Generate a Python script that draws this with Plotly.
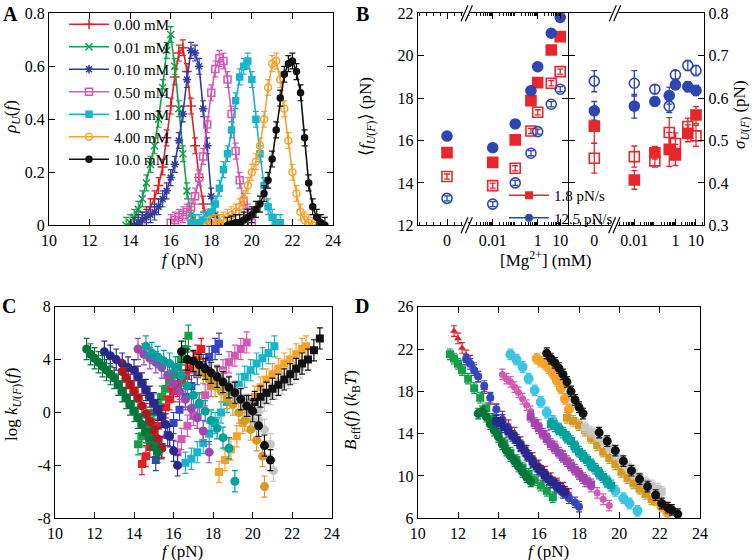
import plotly.graph_objects as go

W, H = 752, 560
FONT = "Liberation Serif"

# ---------------- Panel A : unfolding force distributions ----------------
A_labels = ["0.00 mM", "0.01 mM", "0.10 mM", "0.50 mM", "1.00 mM", "4.00 mM", "10.0 mM"]
A_f_000 = [14.2,14.4,14.6,14.8,15.0,15.2,15.4,15.6,15.8,16.0,16.2,16.4,16.6,16.8,17.0,17.2,17.4,17.6,17.8,18.0]
A_p_000 = [0.0,0.01,0.02,0.04,0.07,0.1,0.15,0.22,0.33,0.45,0.56,0.65,0.67,0.58,0.45,0.3,0.18,0.08,0.02,0.0]
A_f_001 = [13.8,14.0,14.2,14.4,14.6,14.8,15.0,15.2,15.4,15.6,15.8,16.0,16.2,16.4,16.6,16.8,17.0,17.2]
A_p_001 = [0.0,0.01,0.03,0.06,0.1,0.16,0.23,0.3,0.4,0.52,0.66,0.72,0.6,0.44,0.27,0.13,0.04,0.01]
A_f_010 = [14.2,14.4,14.6,14.8,15.0,15.2,15.4,15.6,15.8,16.0,16.2,16.4,16.6,16.8,17.0,17.2,17.4,17.6,17.8,18.0,18.2,18.4]
A_p_010 = [0.0,0.01,0.02,0.03,0.04,0.05,0.07,0.1,0.13,0.18,0.23,0.32,0.42,0.55,0.66,0.65,0.6,0.44,0.3,0.11,0.04,0.01]
A_f_050 = [16.0,16.2,16.4,16.6,16.8,17.0,17.2,17.4,17.6,17.8,18.0,18.2,18.4,18.6,18.8,19.0,19.2,19.4,19.6,19.8,20.0]
A_p_050 = [0.01,0.02,0.03,0.04,0.05,0.07,0.11,0.18,0.26,0.38,0.5,0.59,0.63,0.62,0.55,0.42,0.28,0.17,0.09,0.05,0.01]
A_f_100 = [17.0,17.2,17.4,17.6,17.8,18.0,18.2,18.4,18.6,18.8,19.0,19.2,19.4,19.6,19.8,20.0,20.2,20.4,20.6,20.8,21.0,21.2,21.4]
A_p_100 = [0.01,0.01,0.01,0.02,0.03,0.05,0.08,0.14,0.21,0.27,0.36,0.47,0.56,0.6,0.62,0.55,0.4,0.27,0.15,0.07,0.03,0.01,0.01]
A_f_400 = [17.8,18.0,18.2,18.4,18.6,18.8,19.0,19.2,19.4,19.6,19.8,20.0,20.2,20.4,20.6,20.8,21.0,21.2,21.4,21.6,21.8,22.0,22.2,22.4,22.6,22.8,23.0]
A_p_400 = [0.0,0.005,0.01,0.01,0.02,0.03,0.04,0.05,0.07,0.1,0.15,0.2,0.24,0.3,0.4,0.52,0.61,0.62,0.55,0.44,0.32,0.2,0.12,0.05,0.02,0.01,0.0]
A_f_1000 = [18.8,19.0,19.2,19.4,19.6,19.8,20.0,20.2,20.4,20.6,20.8,21.0,21.2,21.4,21.6,21.8,22.0,22.2,22.4,22.6,22.8,23.0,23.2,23.4,23.6]
A_p_1000 = [0.0,0.005,0.01,0.01,0.02,0.03,0.04,0.06,0.08,0.12,0.17,0.25,0.36,0.48,0.57,0.61,0.62,0.58,0.5,0.33,0.16,0.07,0.03,0.01,0.0]
A_err = 0.03

# ---------------- Panel B : mean and width of distributions ----------------
B_mg = [0, 0.01, 0.1, 0.5, 1, 4, 10]
B_mean_red_fill = [15.43, 14.97, 16.03, 17.88, 18.73, 20.27, 20.9]
B_mean_red_open = [14.3, 13.87, 14.69, 16.45, 17.33, 18.7, 19.25]
B_mean_blue_fill = [16.21, 15.66, 16.78, 18.35, 19.48, 21.06, 21.81]
B_mean_blue_open = [13.27, 13.0, 14.0, 15.4, 16.42, 17.71, 18.42]
B_mean_err = 0.12
B_sig_red_fill = [0.534, 0.407, 0.471, 0.479, 0.466, 0.517, 0.560]
B_sig_red_open = [0.458, 0.462, 0.452, 0.519, 0.493, 0.533, 0.511]
B_sig_blue_fill = [0.570, 0.581, 0.592, 0.606, 0.631, 0.627, 0.618]
B_sig_blue_open = [0.640, 0.635, 0.621, 0.581, 0.655, 0.677, 0.665]
B_sig_err_red_fill = [0.04, 0.022, 0.015, 0.04, 0.025, 0.02, 0.02]
B_sig_err_red_open = [0.035, 0.025, 0.015, 0.035, 0.025, 0.02, 0.025]
B_sig_err_blue_fill = [0.022, 0.028, 0.01, 0.02, 0.01, 0.012, 0.012]
B_sig_err_blue_open = [0.025, 0.03, 0.01, 0.015, 0.01, 0.012, 0.012]
B_legend = ["1.8 pN/s", "12.5 pN/s"]

# ---------------- Panel C : log rates ----------------
C_up_green_f = [14.2,14.4,14.6,14.8,15.0,15.2,15.4,15.6,15.8,16.0,16.2,16.4,16.6,16.75]
C_up_green_y = [-2.4,-1.8,-1.2,-0.6,0.0,0.6,1.2,1.8,2.4,2.9,3.4,4.0,4.8,5.8]
C_up_red_f = [14.4,14.6,14.8,15.0,15.2,15.4,15.6,15.8,16.0,16.2,16.4,16.6,16.8,17.0,17.2,17.4]
C_up_red_y = [-3.9,-3.3,-2.6,-1.8,-1.0,-0.3,0.4,1.0,1.6,2.0,2.4,2.8,3.3,3.8,4.3,4.8]
C_up_blue_f = [15.1,15.4,15.7,16.0,16.3,16.6,16.9,17.2,17.5,17.8,18.1,18.3]
C_up_blue_y = [-3.6,-2.6,-1.7,-0.8,0.2,1.2,2.0,2.9,3.6,4.2,4.8,5.2]
C_up_mag_f = [16.2,16.4,16.7,17.0,17.3,17.6,17.9,18.2,18.5,18.8,19.1,19.4,19.7]
C_up_mag_y = [-3.0,-2.0,-1.0,-0.2,0.6,1.3,2.0,2.6,3.2,3.8,4.3,4.8,5.3]
C_up_cyan_f = [16.6,16.9,17.2,17.5,17.8,18.1,18.4,18.7,19.0,19.3,19.6,19.9,20.2,20.5,20.8,21.1]
C_up_cyan_y = [-3.8,-3.5,-3.0,-2.3,-1.6,-0.8,0.0,0.8,1.5,2.1,2.7,3.2,3.7,4.1,4.5,5.0]
C_up_orange_f = [18.3,18.6,18.9,19.2,19.5,19.8,20.1,20.4,20.7,21.0,21.3,21.6,21.9,22.2,22.5,22.7]
C_up_orange_y = [-4.5,-3.6,-2.8,-1.8,-0.8,0.2,1.2,1.9,2.5,2.9,3.3,3.7,4.0,4.4,4.8,5.0]
C_up_grey_f = [20.0,20.3,20.6,20.9,21.2,21.5,21.8,22.1,22.4]
C_up_grey_y = [-0.6,0.2,0.9,1.4,1.8,2.2,2.6,3.0,3.4]
C_up_black_f = [19.8,20.1,20.4,20.7,21.0,21.3,21.6,21.9,22.2,22.5,22.8,23.1,23.4]
C_up_black_y = [0.5,0.8,1.2,1.5,1.8,2.1,2.5,2.9,3.3,3.7,4.0,4.7,5.6]

C_dn_green_f = [11.6,11.8,12.0,12.2,12.4,12.6,12.8,13.0,13.2,13.4,13.6,13.8,14.0,14.2,14.4,14.6,14.8,15.0,15.2]
C_dn_green_y = [4.8,4.4,4.1,3.8,3.5,3.2,2.9,2.6,2.1,1.6,1.1,0.6,0.1,-0.4,-0.9,-1.5,-2.0,-2.6,-3.0]
C_dn_red_f = [13.4,13.6,13.8,14.0,14.2,14.4,14.6,14.8,15.0,15.2,15.4]
C_dn_red_y = [3.1,2.6,2.1,1.6,1.1,0.5,-0.1,-0.7,-1.3,-2.0,-2.7]
C_dn_blue_f = [12.5,12.8,13.1,13.4,13.7,14.0,14.2,14.4,14.6,14.8,15.0,15.2,15.4,15.6,15.8,16.0,16.2]
C_dn_blue_y = [4.6,4.3,4.0,3.7,3.4,3.2,2.7,2.2,1.7,1.2,0.7,0.2,-0.3,-0.9,-1.8,-2.9,-4.0]
C_dn_purple_f = [14.2,14.5,14.8,15.1,15.4,15.7,16.0,16.3,16.6,16.9,17.2,17.5,17.8]
C_dn_purple_y = [4.8,4.4,4.1,3.8,3.4,2.8,2.2,1.6,1.0,0.3,-0.4,-1.4,-3.0]
C_dn_teal_f = [14.6,14.9,15.2,15.5,15.8,16.1,16.4,16.7,17.0,17.3,17.6,17.9,18.2,18.5,18.8,19.1]
C_dn_teal_y = [5.0,4.5,4.2,3.9,3.7,3.4,2.8,2.0,1.3,0.7,0.1,-0.6,-1.2,-1.9,-2.7,-5.2]
C_dn_orange_f = [17.2,17.5,17.8,18.1,18.4,18.7,19.0,19.3,19.6,19.9,20.2,20.5,20.6]
C_dn_orange_y = [3.5,3.0,2.5,2.0,1.6,1.1,0.6,0.0,-0.6,-1.3,-2.1,-3.3,-5.6]
C_dn_grey_f = [18.2,18.5,18.8,19.1,19.4,19.7,20.0,20.3,20.6,20.9,21.05]
C_dn_grey_y = [2.8,2.4,2.0,1.6,1.1,0.6,0.0,-0.6,-1.3,-2.4,-4.4]
C_dn_black_f = [16.4,16.7,17.0,17.3,17.6,17.9,18.2,18.5,18.8,19.1,19.4,19.7,20.0,20.3,20.6,20.9]
C_dn_black_y = [4.6,4.0,3.9,3.6,3.3,3.0,2.7,2.3,1.9,1.5,1.0,0.5,0.1,-1.0,-2.5,-3.6]
C_err = 0.8

# ---------------- Panel D : effective barrier ----------------
D_red_f = [11.8,12.0,12.2,12.4,12.6,12.8,13.0,13.3,13.6,13.9,14.2,14.5,14.8,15.1,15.4,15.7,16.0,16.3,16.6,16.9,17.2,17.5]
D_red_B = [23.7,23.0,22.1,21.4,20.9,20.2,19.4,18.3,17.3,16.3,15.6,14.8,14.1,13.2,12.4,11.7,11.0,10.4,9.8,9.3,8.9,8.3]
D_green_f = [11.6,11.8,12.0,12.2,12.5,12.8,13.1,13.4,13.7,14.0,14.3,14.6,14.9,15.2,15.5,15.8,16.1,16.4,16.7]
D_green_B = [21.5,21.1,20.6,20.0,19.2,18.3,17.4,16.4,15.4,14.2,13.1,12.2,11.5,10.8,10.2,9.6,9.1,8.6,8.0]
D_dgreen_f = [13.0,13.2,13.4,13.6,13.8,14.0,14.2,14.4,14.6,14.8,15.0,15.2,15.4,15.6]
D_dgreen_B = [15.9,16.1,15.6,14.9,14.3,13.7,13.0,12.4,11.9,11.4,10.9,10.4,9.9,9.5]
D_blue_f = [12.4,12.6,12.8,13.0,13.3,13.6,13.9,14.2,14.5,14.8,15.1,15.4,15.7,16.0,16.3,16.6,16.9,17.2,17.5,17.8,18.0]
D_blue_B = [21.0,20.6,20.0,19.4,18.5,17.4,16.3,15.3,14.4,13.6,12.8,12.0,11.3,10.6,10.0,9.4,8.9,8.4,7.9,7.5,7.1]
D_dblue_f = [13.9,14.1,14.3,14.5,14.7,14.9,15.1,15.3,15.5,15.7,15.9,16.1,16.3,16.5,16.7,16.9,17.1,17.3]
D_dblue_B = [15.2,15.0,14.6,14.2,13.8,13.4,12.9,12.4,11.9,11.4,10.9,10.5,10.1,9.7,9.4,9.1,8.8,8.5]
D_mag_f = [14.2,14.4,14.6,14.8,15.0,15.2,15.4,15.6,16.0,16.4,16.8,17.2,17.6,18.0,18.3,18.6,18.9,19.2,19.5]
D_mag_B = [19.6,19.2,18.9,18.4,17.9,17.3,16.7,16.1,14.8,13.8,12.8,11.9,11.0,10.2,9.5,9.0,8.4,7.8,7.2]
D_purple_f = [15.6,15.8,16.0,16.2,16.4,16.6,16.8,17.0,17.2,17.4,17.6,17.8,18.0,18.2,18.4,18.6]
D_purple_B = [15.6,15.0,14.5,14.0,13.5,13.0,12.6,12.2,11.8,11.4,11.0,10.6,10.2,9.8,9.5,9.2]
D_cyan_f = [14.6,14.9,15.2,15.5,15.8,16.1,16.4,16.7,17.0,17.4,17.8,18.2,18.6,19.0,19.4,19.8,20.2,20.5,20.9]
D_cyan_B = [21.5,21.0,20.3,19.2,18.1,17.0,16.0,15.2,14.5,13.6,12.7,11.9,11.0,10.2,9.4,8.6,7.9,7.4,6.7]
D_teal_f = [16.6,16.8,17.0,17.2,17.4,17.6,17.8,18.0,18.2,18.4,18.6,18.8,19.0,19.2,19.4,19.6]
D_teal_B = [14.9,14.7,14.4,14.1,13.7,13.3,12.8,12.3,11.9,11.5,11.1,10.7,10.3,9.9,9.5,9.1]
D_orange_f = [15.9,16.1,16.3,16.5,16.7,16.9,17.1,17.3,17.5,21.8,22.1,22.4]
D_orange_B = [21.1,20.8,20.6,20.2,19.7,19.0,18.3,17.3,16.3,7.7,7.1,6.5]
D_dorange_f = [17.4,17.7,18.0,18.3,18.6,18.9,19.2,19.5,19.8,20.1,20.4,20.7,21.0,21.3,21.6]
D_dorange_B = [15.5,15.2,14.8,14.3,13.6,12.9,12.3,11.7,11.1,10.4,9.8,9.3,8.8,8.3,7.8]
D_black_f = [16.4,16.6,16.8,17.0,17.2,17.4,17.6,17.8,18.0,18.2,19.0,19.4,19.8,20.2,20.6,21.0,21.4,21.8,22.1,22.4,22.6,22.9]
D_black_B = [21.6,21.1,20.7,20.2,19.6,18.9,18.0,17.2,16.5,15.9,14.1,13.3,12.4,11.4,10.5,9.7,9.0,8.2,7.4,7.0,6.8,6.4]
D_grey_f = [18.3,18.6,18.9,19.2,19.5,19.8,20.1,20.4,20.7,21.0,21.3,21.6,21.9,22.1]
D_grey_B = [14.6,14.2,13.8,13.3,12.7,12.1,11.5,10.9,10.3,9.8,9.4,9.1,8.8,8.5]
D_err = 0.5

# ---------------- colours ----------------
RED, GREEN, BLUE = "#e41f26", "#13a049", "#2f3d9e"
MAG, CYAN, ORANGE, BLACK = "#d458b4", "#18b4cc", "#f6a22e", "#111111"
DGREEN, DRED, DBLUE = "#00773a", "#b8141c", "#28288c"
PURPLE, TEAL, DORANGE, GREY = "#a245b0", "#00a19e", "#d69a22", "#c6c6c6"
LCYAN, LBLUE = "#3cc4e4", "#3545c0"
BRED, BBLUE = "#e8262c", "#2f45b0"


def px(x):
    return x / W


def py(y):
    return 1 - y / H


fig = go.Figure()

# ---- Panel A traces ----
A_series = [
    (A_f_000, A_p_000, RED, "cross-thin-open", 7),
    (A_f_001, A_p_001, GREEN, "x-thin-open", 7),
    (A_f_010, A_p_010, BLUE, "asterisk-open", 7),
    (A_f_050, A_p_050, MAG, "square-open", 7),
    (A_f_100, A_p_100, CYAN, "square", 6),
    (A_f_400, A_p_400, ORANGE, "circle-open", 7),
    (A_f_1000, A_p_1000, BLACK, "circle", 6),
]
for lab, (fx, pv, col, sym, sz) in zip(A_labels, A_series):
    fig.add_trace(go.Scatter(
        x=fx, y=pv, mode="lines+markers", name=lab, legend="legend",
        xaxis="x", yaxis="y",
        line=dict(color=col, width=1.6),
        marker=dict(color=col, symbol=sym, size=sz, line=dict(color=col, width=1.5)),
        error_y=dict(type="constant", value=A_err, color=col, thickness=1.2, width=3),
    ))

# ---- Panel B traces ----
def b_pair(yvals, err, col, sym, xa0, xa1, ya):
    base = dict(mode="markers", showlegend=False,
                marker=dict(color=col, symbol=sym, size=10, line=dict(color=col, width=1.6)))
    if isinstance(err, list):
        e0 = dict(type="data", array=err[:1], color=col, thickness=1.3, width=3)
        e1 = dict(type="data", array=err[1:], color=col, thickness=1.3, width=3)
    else:
        e0 = e1 = dict(type="constant", value=err, color=col, thickness=1.3, width=3)
    fig.add_trace(go.Scatter(x=B_mg[:1], y=yvals[:1], xaxis=xa0, yaxis=ya, error_y=e0, **base))
    fig.add_trace(go.Scatter(x=B_mg[1:], y=yvals[1:], xaxis=xa1, yaxis=ya, error_y=e1, **base))

b_pair(B_mean_red_open, B_mean_err, BRED, "square-open", "x2", "x3", "y2")
b_pair(B_mean_blue_open, B_mean_err, BBLUE, "circle-open", "x2", "x3", "y2")
b_pair(B_mean_red_fill, B_mean_err, BRED, "square", "x2", "x3", "y2")
b_pair(B_mean_blue_fill, B_mean_err, BBLUE, "circle", "x2", "x3", "y2")
b_pair(B_sig_red_open, B_sig_err_red_open, BRED, "square-open", "x4", "x5", "y3")
b_pair(B_sig_blue_open, B_sig_err_blue_open, BBLUE, "circle-open", "x4", "x5", "y3")
b_pair(B_sig_red_fill, B_sig_err_red_fill, BRED, "square", "x4", "x5", "y3")
b_pair(B_sig_blue_fill, B_sig_err_blue_fill, BBLUE, "circle", "x4", "x5", "y3")

for lab, col, sym in zip(B_legend, [BRED, BBLUE], ["square", "circle"]):
    fig.add_trace(go.Scatter(x=[None], y=[None], xaxis="x3", yaxis="y2", mode="lines+markers",
                             name=lab, legend="legend2",
                             line=dict(color=col, width=1.4),
                             marker=dict(color=col, symbol=sym, size=8)))

# carrier traces for middle axes
fig.add_trace(go.Scatter(x=[None], y=[None], xaxis="x3", yaxis="y4", showlegend=False, hoverinfo="skip"))
fig.add_trace(go.Scatter(x=[None], y=[None], xaxis="x4", yaxis="y5", showlegend=False, hoverinfo="skip"))

# ---- Panel C traces ----
C_up = [
    (C_up_green_f, C_up_green_y, GREEN), (C_up_red_f, C_up_red_y, RED),
    (C_up_blue_f, C_up_blue_y, LBLUE), (C_up_mag_f, C_up_mag_y, MAG),
    (C_up_cyan_f, C_up_cyan_y, CYAN), (C_up_orange_f, C_up_orange_y, ORANGE),
    (C_up_grey_f, C_up_grey_y, GREY), (C_up_black_f, C_up_black_y, BLACK),
]
C_dn = [
    (C_dn_purple_f, C_dn_purple_y, PURPLE), (C_dn_teal_f, C_dn_teal_y, TEAL),
    (C_dn_orange_f, C_dn_orange_y, DORANGE), (C_dn_grey_f, C_dn_grey_y, GREY),
    (C_dn_black_f, C_dn_black_y, BLACK), (C_dn_blue_f, C_dn_blue_y, DBLUE),
    (C_dn_red_f, C_dn_red_y, DRED), (C_dn_green_f, C_dn_green_y, DGREEN),
]
for fx, yv, col in C_up:
    fig.add_trace(go.Scatter(x=fx, y=yv, xaxis="x6", yaxis="y6", mode="markers", showlegend=False,
                             marker=dict(color=col, symbol="square", size=8),
                             error_y=dict(type="constant", value=C_err, color=col, thickness=1.2, width=3),
                             error_x=dict(type="constant", value=0.12, color=col, thickness=1.2, width=2)))
for fx, yv, col in C_dn:
    fig.add_trace(go.Scatter(x=fx, y=yv, xaxis="x6", yaxis="y6", mode="markers", showlegend=False,
                             marker=dict(color=col, symbol="circle", size=9),
                             error_y=dict(type="constant", value=C_err, color=col, thickness=1.2, width=3),
                             error_x=dict(type="constant", value=0.12, color=col, thickness=1.2, width=2)))

# ---- Panel D traces ----
D_series = [
    (D_mag_f, D_mag_B, MAG, "circle", 7), (D_purple_f, D_purple_B, PURPLE, "square", 8),
    (D_red_f, D_red_B, RED, "triangle-up", 7), (D_green_f, D_green_B, GREEN, "square", 8),
    (D_blue_f, D_blue_B, LBLUE, "circle", 8), (D_dgreen_f, D_dgreen_B, DGREEN, "circle", 9),
    (D_dblue_f, D_dblue_B, DBLUE, "square", 8), (D_cyan_f, D_cyan_B, LCYAN, "circle", 10),
    (D_teal_f, D_teal_B, TEAL, "square", 8), (D_orange_f, D_orange_B, ORANGE, "circle", 10),
    (D_dorange_f, D_dorange_B, DORANGE, "square", 8), (D_grey_f, D_grey_B, GREY, "square", 8),
    (D_black_f, D_black_B, BLACK, "circle", 9),
]
for fx, bv, col, sym, sz in D_series:
    fig.add_trace(go.Scatter(x=fx, y=bv, xaxis="x7", yaxis="y7", mode="markers", showlegend=False,
                             marker=dict(color=col, symbol=sym, size=sz),
                             error_y=dict(type="constant", value=D_err, color=col, thickness=1.2, width=3)))

# ---------------- axes ----------------
TF = dict(family=FONT, size=16, color="black")


def ax(**kw):
    d = dict(showline=True, linecolor="black", linewidth=1, ticks="inside", ticklen=6,
             tickcolor="black", tickwidth=1, showgrid=False, zeroline=False, tickfont=TF,
             fixedrange=True, automargin=False)
    d.update(kw)
    return d


yA = [py(225.3), py(13.3)]
yC = [py(518.3), py(306.7)]


def logminor(lo, hi):
    vals = []
    for e in range(lo, hi + 1):
        for k in range(2, 10):
            vals.append(k * 10.0 ** e)
    return vals


fig.update_layout(
    template="none",
    width=W, height=H, margin=dict(l=0, r=0, t=0, b=0, pad=0, autoexpand=False),
    paper_bgcolor="white", plot_bgcolor="rgba(0,0,0,0)",
    font=dict(family=FONT, color="black"),
    xaxis=ax(domain=[px(49), px(333)], anchor="y", range=[10, 24], dtick=2, mirror="ticks"),
    yaxis=ax(domain=yA, anchor="x", range=[0, 0.8], dtick=0.2, mirror="ticks"),
    # Panel B
    xaxis2=ax(domain=[px(417.7), px(466.7)], anchor="y2", range=[-29.3, 19.7],
              tickvals=[0], ticktext=["0"], mirror="ticks",
              minor=dict(ticks="inside", ticklen=3, dtick=7, tick0=0, tickcolor="black")),
    xaxis3=ax(domain=[px(466.7), px(567.7)], anchor="y2", type="log", range=[-3.156, 1.333],
              tickvals=[0.01, 1, 10], ticktext=["0.01", "1", "10"], mirror="ticks",
              minor=dict(ticks="inside", ticklen=3, tickvals=logminor(-4, 1), tickcolor="black")),
    yaxis2=ax(domain=yA, anchor="x2", side="left", range=[12, 22], dtick=2),
    xaxis4=ax(domain=[px(567.7), px(614.3)], anchor="y3", range=[-26.6, 20.0],
              tickvals=[0], ticktext=["0"], mirror=True,
              minor=dict(ticks="inside", ticklen=3, dtick=7, tick0=0, tickcolor="black")),
    xaxis5=ax(domain=[px(614.3), px(704.3)], anchor="y3", type="log", range=[-2.973, 1.404],
              tickvals=[0.01, 1, 10], ticktext=["0.01", "1", "10"], mirror=True,
              minor=dict(ticks="inside", ticklen=3, tickvals=logminor(-4, 1), tickcolor="black")),
    yaxis3=ax(domain=yA, anchor="x5", side="right", range=[0.3, 0.8], dtick=0.1),
    yaxis4=ax(overlaying="y2", anchor="free", position=px(567.7), side="right",
              range=[12, 22], dtick=2, showticklabels=False),
    yaxis5=ax(overlaying="y3", anchor="free", position=px(567.7), side="left",
              range=[0.3, 0.8], dtick=0.1, showticklabels=False),
    # Panel C
    xaxis6=ax(domain=[px(55), px(331.7)], anchor="y6", range=[10, 24], dtick=2, mirror="ticks"),
    yaxis6=ax(domain=yC, anchor="x6", range=[-8, 8], tickvals=[-8, -4, 0, 4, 8],
              ticktext=["-8", "-4", "0", "4", "8"], mirror="ticks"),
    # Panel D
    xaxis7=ax(domain=[px(417.7), px(700)], anchor="y7", range=[10, 24], dtick=2, mirror="ticks"),
    yaxis7=ax(domain=yC, anchor="x7", range=[6, 26], tick0=6, dtick=4, mirror="ticks"),
    legend=dict(x=px(64), y=py(8), xanchor="left", yanchor="top", bgcolor="rgba(0,0,0,0)",
                font=dict(family=FONT, size=15, color="black"), itemwidth=40,
                tracegroupgap=0, traceorder="normal", borderwidth=0),
    legend2=dict(x=px(504), y=py(179), xanchor="left", yanchor="top", bgcolor="rgba(0,0,0,0)",
                 font=dict(family=FONT, size=15, color="black"), itemwidth=40,
                 tracegroupgap=0, traceorder="normal", borderwidth=0),
    showlegend=True,
)

# ---------------- text ----------------
def note(text, x, y, size=17, angle=0, bold=False):
    fig.add_annotation(text=f"<b>{text}</b>" if bold else text, x=px(x), y=py(y),
                       xref="paper", yref="paper", showarrow=False, textangle=angle,
                       xanchor="center", yanchor="middle",
                       font=dict(family=FONT, size=size, color="black"))

note("A", 10, 14, 20, bold=True)
note("B", 362, 14, 20, bold=True)
note("C", 9, 306, 20, bold=True)
note("D", 362, 306, 20, bold=True)
note("<i>ρ</i><sub><i>U</i></sub>(<i>f</i>)", 12, 117, angle=-90)
note("<i>f</i> (pN)", 182, 259)
note("[Mg<sup>2+</sup>] (mM)", 546, 259)
note("⟨<i>f</i><sub><i>U</i>(<i>F</i>)</sub>⟩ (pN)", 367, 117, angle=-90)
note("<i>σ</i><sub><i>U</i>(<i>F</i>)</sub> (pN)", 741, 115, angle=-90)
note("log <i>k</i><sub><i>U</i>(<i>F</i>)</sub>(<i>f</i>)", 13, 405, angle=-90)
note("<i>f</i> (pN)", 182, 551)
note("<i>B</i><sub>eff</sub>(<i>f</i>) (<i>k</i><sub>B</sub><i>T</i>)", 352, 410, angle=-90)
note("<i>f</i> (pN)", 548, 551)

# ---------------- axis breaks ----------------
def brk(xc, yc):
    fig.add_shape(type="rect", xref="paper", yref="paper",
                  x0=px(xc - 3.5), x1=px(xc + 3.5), y0=py(yc + 2), y1=py(yc - 2),
                  fillcolor="white", line=dict(width=0), layer="above")
    for dx in (-2.2, 2.2):
        fig.add_shape(type="line", xref="paper", yref="paper",
                      x0=px(xc + dx - 3.5), y0=py(yc + 8), x1=px(xc + dx + 3.5), y1=py(yc - 8),
                      line=dict(color="black", width=1.2), layer="above")

brk(466.7, 13.3)
brk(466.7, 225.3)
brk(615.0, 13.3)
brk(614.3, 225.3)

fig.write_html("out.html", config={"displayModeBar": False},
               post_script="document.body.style.margin='0px';")
